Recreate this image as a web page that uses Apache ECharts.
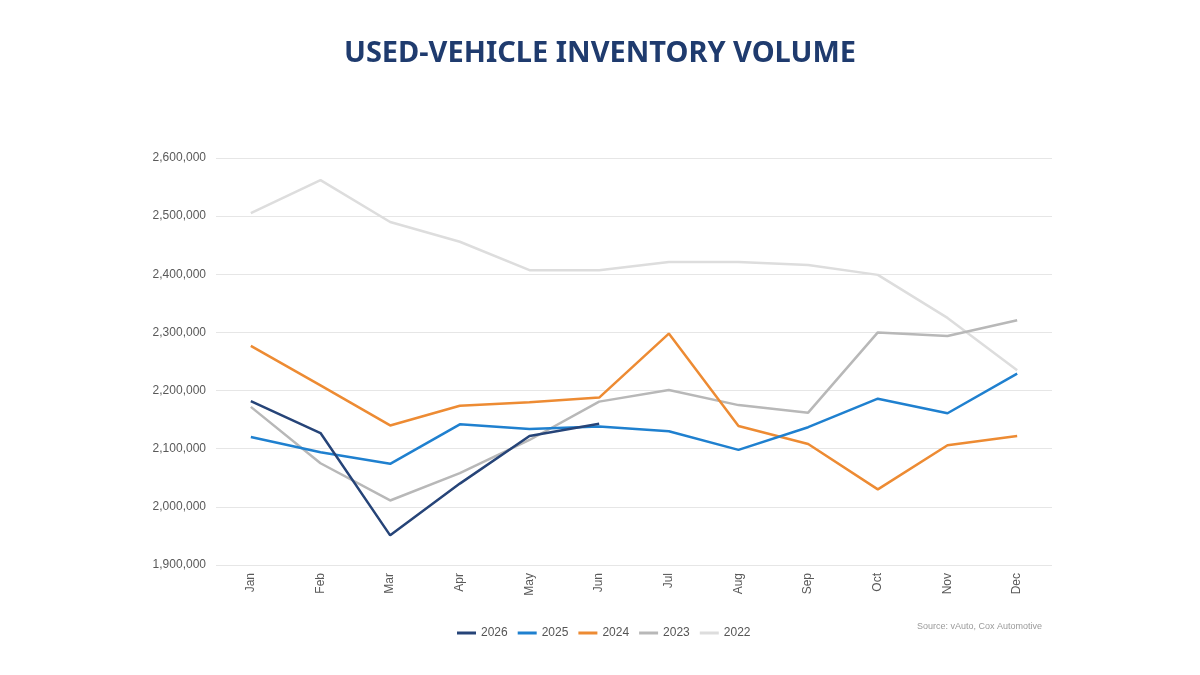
<!DOCTYPE html>
<html>
<head>
<meta charset="utf-8">
<script src="https://cdn.jsdelivr.net/npm/echarts@6/dist/echarts.min.js"></script>
<style>
  html, body { margin: 0; padding: 0; background: #fff; }
  #main { width: 1200px; height: 675px; }
</style>
</head>
<body>
<div id="main"></div>
<script>
const months = ['Jan', 'Feb', 'Mar', 'Apr', 'May', 'Jun', 'Jul', 'Aug', 'Sep', 'Oct', 'Nov', 'Dec'];
const years = ['2026', '2025', '2024', '2023', '2022'];
const colors = ['#264478', '#1f80cf', '#ed8b33', '#b8b8b8', '#dddddd'];

const v2026 = [2182000, 2127000, 1951000, 2040000, 2122000, 2143000];
const v2025 = [2120000, 2094000, 2074000, 2142000, 2134000, 2138000, 2130000, 2098000, 2137000, 2186000, 2161000, 2229000];
const v2024 = [2277000, 2209000, 2140000, 2174000, 2180000, 2188000, 2298000, 2139000, 2108000, 2030000, 2106000, 2122000];
const v2023 = [2172000, 2075000, 2011000, 2058000, 2115000, 2181000, 2201000, 2175000, 2162000, 2300000, 2294000, 2321000];
const v2022 = [2505000, 2562000, 2490000, 2456000, 2407000, 2407000, 2421000, 2421000, 2416000, 2399000, 2325000, 2235000];

const values = [v2026, v2025, v2024, v2023, v2022];
const zs = [6, 5, 4, 3, 2];

var chart = echarts.init(document.getElementById('main'));

chart.setOption({
  backgroundColor: '#ffffff',
  animation: false,
  color: colors,
  title: [{
    text: 'USED-VEHICLE INVENTORY VOLUME',
    left: 'center',
    top: 34,
    textStyle: {
      fontFamily: 'Noto Sans',
      fontWeight: 'bold',
      fontSize: 29,
      color: '#1f3b6e'
    }
  }, {
    text: 'Source: vAuto, Cox Automotive',
    right: 153,
    top: 617,
    textStyle: {
      fontFamily: 'Liberation Sans',
      fontWeight: 'normal',
      fontSize: 9,
      color: '#9a9a9a'
    }
  }],
  legend: {
    data: years,
    left: 452,
    top: 622,
    itemGap: 10,
    itemWidth: 19,
    itemHeight: 3,
    icon: 'rect',
    textStyle: {
      fontFamily: 'Liberation Sans',
      fontSize: 12,
      color: '#555'
    }
  },
  grid: {
    left: 216,
    right: 148,
    top: 158,
    bottom: 110
  },
  xAxis: {
    type: 'category',
    data: months,
    boundaryGap: true,
    axisLine: { show: false },
    axisTick: { show: false },
    axisLabel: {
      rotate: 90,
      margin: 8,
      fontFamily: 'Liberation Sans',
      fontSize: 12,
      color: '#595959'
    }
  },
  yAxis: {
    type: 'value',
    min: 1900000,
    max: 2600000,
    interval: 100000,
    axisLine: { show: false },
    axisTick: { show: false },
    splitLine: { lineStyle: { color: '#e6e6e6', width: 1 } },
    axisLabel: {
      margin: 10,
      fontFamily: 'Liberation Sans',
      fontSize: 12,
      color: '#595959',
      formatter: function (v) { return v.toLocaleString('en-US'); }
    }
  },
  series: years.map(function (y, i) {
    return {
      name: y,
      type: 'line',
      data: values[i],
      z: zs[i],
      showSymbol: false,
      symbol: 'none',
      lineStyle: { width: 2.5, color: colors[i] },
      itemStyle: { color: colors[i] }
    };
  })
});
</script>
</body>
</html>
